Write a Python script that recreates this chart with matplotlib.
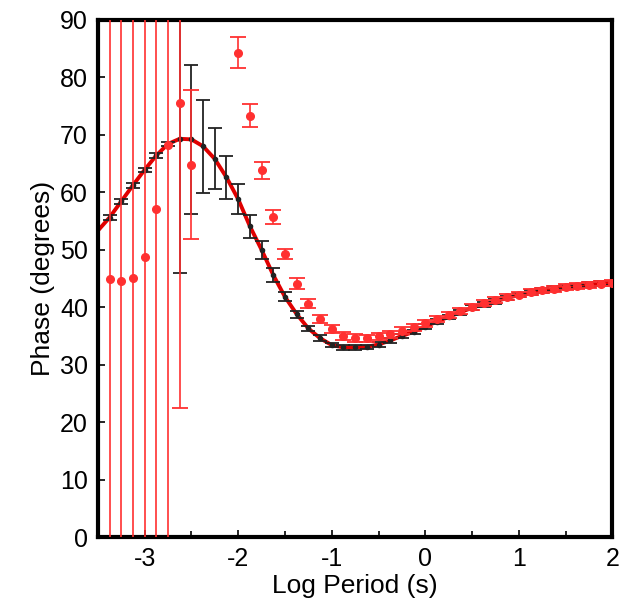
import numpy as np
import matplotlib.pyplot as plt

plt.rcParams["font.family"] = ["Liberation Sans", "DejaVu Sans"]
plt.rcParams["axes.unicode_minus"] = False

# log period grid of the measured phases (8 per decade)
log_period = [-3.375, -3.250, -3.125, -3.000, -2.875, -2.750, -2.625, -2.500,
              -2.375, -2.250, -2.125, -2.000, -1.875, -1.750, -1.625, -1.500,
              -1.375, -1.250, -1.125, -1.000, -0.875, -0.750, -0.625, -0.500,
              -0.375, -0.250, -0.125, 0.000, 0.125, 0.250, 0.375, 0.500,
              0.625, 0.750, 0.875, 1.000, 1.125, 1.250, 1.375, 1.500,
              1.625, 1.750, 1.875, 2.000]

# black series (fits the model well)
phase_black = [55.6, 58.4, 61.2, 63.9, 66.4, 68.4, 69.3, 69.2, 68.0, 65.8,
               62.6, 58.8, 54.1, 50.0, 45.6, 41.8, 38.8, 36.3, 34.6, 33.4,
               33.0, 33.0, 33.1, 33.5, 34.2, 35.0, 35.7, 36.6, 37.5, 38.3,
               39.1, 39.9, 40.5, 41.0, 41.6, 42.1, 42.5, 42.9, 43.2, 43.5,
               43.7, 43.9, 44.1, 44.2]
err_black = [0.4, 0.4, 0.4, 0.4, 0.4, 0.4, 23.3, 13.0, 8.1, 5.3,
             3.7, 2.6, 2.0, 1.6, 1.2, 0.8, 0.6, 0.5, 0.5, 0.4,
             0.4, 0.4, 0.4, 0.4, 0.4, 0.4, 0.4, 0.4, 0.4, 0.4,
             0.4, 0.4, 0.4, 0.4, 0.4, 0.4, 0.4, 0.4, 0.4, 0.4,
             0.4, 0.4, 0.4, 0.4]

# red series (nan where off the chart)
phase_red = [44.9, 44.6, 45.0, 48.7, 57.1, 68.3, 75.5, 64.8, np.nan, np.nan,
             np.nan, 84.3, 73.3, 63.8, 55.7, 49.2, 44.1, 40.6, 38.0, 36.2,
             35.0, 34.6, 34.6, 34.9, 35.3, 35.9, 36.5, 37.2, 38.0, 38.6,
             39.3, 40.0, 40.7, 41.2, 41.8, 42.2, 42.6, 42.9, 43.2, 43.5,
             43.7, 43.9, 44.1, 44.2]
err_red = [120, 120, 120, 120, 120, 120, 53.0, 13.0, 0, 0,
           0, 2.7, 2.0, 1.5, 1.2, 0.9, 0.9, 0.8, 0.7, 0.7,
           0.7, 0.7, 0.6, 0.6, 0.6, 0.6, 0.6, 0.6, 0.5, 0.5,
           0.5, 0.5, 0.5, 0.5, 0.5, 0.5, 0.5, 0.5, 0.5, 0.5,
           0.5, 0.5, 0.5, 0.5]

# model curve
model_x = [-3.5] + log_period
model_y = [53.3] + phase_black

fig = plt.figure(figsize=(6.23, 6.07), dpi=100)
ax = fig.add_axes([0.157, 0.1153, 0.826, 0.852])

ax.plot(model_x, model_y, color="#e00000", lw=2.8, zorder=2)
ax.errorbar(log_period, phase_black, yerr=err_black, fmt="o", color="#222222",
            ms=3, elinewidth=1.3, capsize=5, capthick=1.3, zorder=3)
ax.errorbar(log_period, phase_red, yerr=err_red, fmt="o", color="#ff3030",
            ms=5.5, elinewidth=1.2, capsize=5.5, capthick=1.3, zorder=4)

ax.set_xlim(-3.5, 2)
ax.set_ylim(0, 90)
ax.set_xticks([-3, -2, -1, 0, 1, 2])
ax.set_xticks(np.arange(-3.5, 2.01, 0.5), minor=True)
ax.set_yticks(np.arange(0, 91, 10))
ax.tick_params(direction="in", length=5, width=1.2, labelsize=18, pad=7,
               top=False, right=False)
ax.tick_params(which="minor", direction="in", length=4, width=1.2,
               top=False, right=False)
for s in ax.spines.values():
    s.set_linewidth(3)

ax.set_xlabel("Log Period (s)", fontsize=19, labelpad=2)
ax.set_ylabel("Phase (degrees)", fontsize=19, labelpad=4)

plt.savefig("out.png", dpi=100)
